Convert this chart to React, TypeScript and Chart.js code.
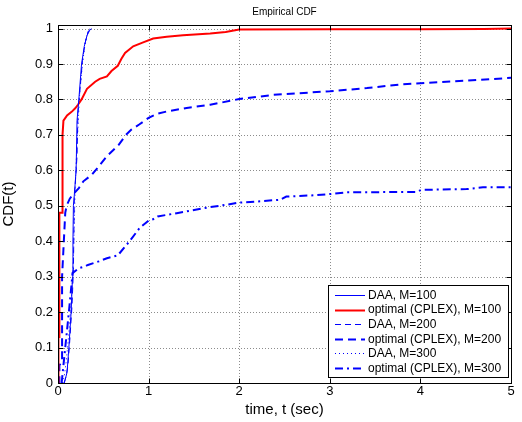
import React, { useEffect, useRef } from "react";
import { Chart, registerables } from "chart.js";
Chart.register(...registerables);

const chartTitle = "Empirical CDF";
const xTitle = "time, t (sec)";
const yTitle = "CDF(t)";
const xTicks = [0, 1, 2, 3, 4, 5];
const yTicks = [0, 0.1, 0.2, 0.3, 0.4, 0.5, 0.6, 0.7, 0.8, 0.9, 1];
const yTickLabels = ["0", "0.1", "0.2", "0.3", "0.4", "0.5", "0.6", "0.7", "0.8", "0.9", "1"];

const seriesNames = [
  "DAA, M=100",
  "optimal (CPLEX), M=100",
  "DAA, M=200",
  "optimal (CPLEX), M=200",
  "DAA, M=300",
  "optimal (CPLEX), M=300",
];

const daa100T = [0.065, 0.08, 0.1, 0.12, 0.145, 0.16, 0.165, 0.17, 0.18, 0.2, 0.21, 0.23, 0.26, 0.29, 0.32, 0.35, 0.37];
const daa100Y = [0, 0.01, 0.03, 0.1, 0.2, 0.3, 0.4, 0.5, 0.53, 0.6, 0.74, 0.8, 0.9, 0.95, 0.98, 0.995, 1.0];

const opt100T = [0, 0.005, 0.005, 0.015, 0.015, 0.045, 0.045, 0.055, 0.06, 0.1, 0.15, 0.19, 0.22, 0.26, 0.32, 0.41, 0.46, 0.54, 0.59, 0.66, 0.7, 0.74, 0.83, 0.94, 1.05, 1.2, 1.38, 1.68, 1.85, 2.0, 3.0, 4.0, 4.7, 5.0];
const opt100Y = [0, 0, 0.13, 0.13, 0.48, 0.48, 0.65, 0.7, 0.74, 0.755, 0.765, 0.775, 0.785, 0.8, 0.83, 0.85, 0.858, 0.865, 0.88, 0.895, 0.915, 0.931, 0.95, 0.961, 0.972, 0.977, 0.981, 0.986, 0.99, 0.997, 0.998, 0.998, 0.999, 1.0];

const daa200T = [0.07, 0.09, 0.11, 0.13, 0.155, 0.17, 0.175, 0.18, 0.19, 0.21, 0.22, 0.24, 0.27, 0.3, 0.33, 0.36];
const daa200Y = [0, 0.02, 0.05, 0.12, 0.22, 0.32, 0.42, 0.52, 0.56, 0.64, 0.76, 0.82, 0.91, 0.96, 0.99, 1.0];

const opt200T = [0, 0.015, 0.015, 0.045, 0.045, 0.08, 0.095, 0.13, 0.18, 0.23, 0.28, 0.375, 0.45, 0.54, 0.67, 0.75, 0.81, 0.9, 1.0, 1.1, 1.2, 1.42, 1.68, 2.0, 2.38, 3.0, 3.41, 3.77, 4.0, 4.51, 5.0];
const opt200Y = [0, 0, 0.05, 0.06, 0.3, 0.48, 0.5, 0.52, 0.536, 0.55, 0.569, 0.588, 0.611, 0.64, 0.672, 0.7, 0.715, 0.73, 0.748, 0.76, 0.766, 0.776, 0.785, 0.801, 0.813, 0.823, 0.832, 0.842, 0.846, 0.853, 0.861];

const daa300T = [0.05, 0.07, 0.09, 0.12, 0.15, 0.17, 0.18, 0.19, 0.2, 0.22, 0.24, 0.27, 0.3, 0.33, 0.35];
const daa300Y = [0, 0.02, 0.06, 0.14, 0.25, 0.35, 0.45, 0.55, 0.62, 0.72, 0.82, 0.9, 0.96, 0.99, 1.0];

const opt300T = [0.04, 0.08, 0.12, 0.15, 0.16, 0.23, 0.3, 0.33, 0.45, 0.54, 0.66, 0.74, 0.79, 0.9, 1.0, 1.05, 1.1, 1.31, 1.6, 1.86, 2.0, 2.19, 2.45, 2.52, 2.78, 3.0, 3.19, 3.96, 4.01, 4.51, 4.69, 5.0];
const opt300Y = [0, 0.1, 0.2, 0.28, 0.31, 0.324, 0.329, 0.333, 0.343, 0.352, 0.36, 0.385, 0.4, 0.437, 0.458, 0.462, 0.47, 0.479, 0.493, 0.503, 0.509, 0.512, 0.517, 0.526, 0.529, 0.533, 0.538, 0.539, 0.545, 0.547, 0.552, 0.552];

const BLUE = "#0000ff";
const RED = "#ff0000";
const FONT = "'Liberation Sans', Arial, Helvetica, sans-serif";

const styles = [
  { color: BLUE, width: 1, dash: [] as number[] },
  { color: RED, width: 2, dash: [] as number[] },
  { color: BLUE, width: 1, dash: [6, 4] },
  { color: BLUE, width: 2, dash: [8, 5] },
  { color: BLUE, width: 1, dash: [1, 3] },
  { color: BLUE, width: 2, dash: [8, 4, 2, 4] },
];

const pts = (t: number[], y: number[]) => t.map((v, i) => ({ x: v, y: y[i] }));

const matlabPlugin = {
  id: "matlabFrame",
  beforeDatasetsDraw(chart: any) {
    const { ctx, chartArea: a, scales } = chart;
    ctx.save();
    ctx.strokeStyle = "#8c8c8c";
    ctx.lineWidth = 1;
    ctx.setLineDash([1, 2]);
    xTicks.forEach((v) => {
      const px = Math.round(scales.x.getPixelForValue(v)) + 0.5;
      ctx.beginPath();
      ctx.moveTo(px, a.top);
      ctx.lineTo(px, a.bottom);
      ctx.stroke();
    });
    yTicks.forEach((v) => {
      const py = Math.round(scales.y.getPixelForValue(v)) + 0.5;
      ctx.beginPath();
      ctx.moveTo(a.left, py);
      ctx.lineTo(a.right, py);
      ctx.stroke();
    });
    ctx.restore();
  },
  afterDraw(chart: any) {
    const { ctx, chartArea: a, scales } = chart;
    ctx.save();
    // frame
    ctx.strokeStyle = "#000";
    ctx.lineWidth = 1;
    ctx.setLineDash([]);
    const L = Math.round(a.left) + 0.5, R = Math.round(a.right) + 0.5;
    const T = Math.round(a.top) + 0.5, B = Math.round(a.bottom) + 0.5;
    ctx.strokeRect(L, T, R - L, B - T);
    const tl = 5;
    ctx.beginPath();
    xTicks.forEach((v) => {
      const px = Math.round(scales.x.getPixelForValue(v)) + 0.5;
      ctx.moveTo(px, B); ctx.lineTo(px, B - tl);
      ctx.moveTo(px, T); ctx.lineTo(px, T + tl);
    });
    yTicks.forEach((v) => {
      const py = Math.round(scales.y.getPixelForValue(v)) + 0.5;
      ctx.moveTo(L, py); ctx.lineTo(L + tl, py);
      ctx.moveTo(R, py); ctx.lineTo(R - tl, py);
    });
    ctx.stroke();

    // title
    ctx.fillStyle = "#000";
    ctx.font = `10px ${FONT}`;
    ctx.textAlign = "center";
    ctx.textBaseline = "middle";
    ctx.fillText(chartTitle, (a.left + a.right) / 2, 12);

    // legend
    const lx = 328.5, ly = 285.5, lw = 180, lh = 92;
    ctx.fillStyle = "#fff";
    ctx.fillRect(lx, ly, lw, lh);
    ctx.strokeStyle = "#000";
    ctx.strokeRect(lx, ly, lw, lh);
    ctx.font = `12px ${FONT}`;
    ctx.textAlign = "left";
    seriesNames.forEach((name, i) => {
      const cy = 295 + i * 14.6;
      const s = styles[i];
      ctx.strokeStyle = s.color;
      ctx.lineWidth = s.width;
      ctx.setLineDash(s.dash);
      ctx.beginPath();
      ctx.moveTo(335, Math.round(cy) + 0.5);
      ctx.lineTo(365, Math.round(cy) + 0.5);
      ctx.stroke();
      ctx.fillStyle = "#000";
      ctx.fillText(name, 368, cy + 0.5);
    });
    ctx.restore();
  },
};

export default function App() {
  const ref = useRef<HTMLCanvasElement | null>(null);
  useEffect(() => {
    if (!ref.current) return;
    const series = [
      pts(daa100T, daa100Y),
      pts(opt100T, opt100Y),
      pts(daa200T, daa200Y),
      pts(opt200T, opt200Y),
      pts(daa300T, daa300Y),
      pts(opt300T, opt300Y),
    ];
    const chart = new Chart(ref.current, {
      type: "line",
      data: {
        datasets: series.map((d, i) => ({
          label: seriesNames[i],
          data: d,
          borderColor: styles[i].color,
          borderWidth: styles[i].width,
          borderDash: styles[i].dash,
          pointRadius: 0,
          fill: false,
          tension: 0,
        })),
      },
      options: {
        animation: false,
        responsive: false,
        devicePixelRatio: 1,
        layout: { padding: { top: 25, right: 11, left: 0, bottom: 0 } },
        plugins: { legend: { display: false }, title: { display: false }, tooltip: { enabled: false } },
        scales: {
          x: {
            type: "linear",
            min: 0,
            max: 5,
            grid: { display: false, drawTicks: false },
            border: { display: false },
            afterBuildTicks: (s: any) => { s.ticks = xTicks.map((v) => ({ value: v })); },
            afterFit: (s: any) => { s.height = 39; },
            ticks: {
              color: "#000",
              font: { family: FONT, size: 13 },
              padding: 1,
              maxRotation: 0,
              callback: (v: any) => String(v),
            },
            title: {
              display: true,
              text: xTitle,
              color: "#000",
              font: { family: FONT, size: 15 },
              padding: { top: 0, bottom: 3 },
            },
          },
          y: {
            type: "linear",
            min: 0,
            max: 1.01,
            grid: { display: false, drawTicks: false },
            border: { display: false },
            afterBuildTicks: (s: any) => { s.ticks = yTicks.map((v) => ({ value: v })); },
            afterFit: (s: any) => { s.width = 58; },
            ticks: {
              color: "#000",
              font: { family: FONT, size: 13 },
              padding: 5,
              callback: (_v: any, i: number) => yTickLabels[i],
            },
            title: {
              display: true,
              text: yTitle,
              color: "#000",
              font: { family: FONT, size: 15 },
              padding: { top: 0, bottom: 0 },
            },
          },
        },
      },
      plugins: [matlabPlugin],
    } as any);
    return () => chart.destroy();
  }, []);
  return (
    <div style={{ position: "fixed", left: 0, top: 0, width: 522, height: 422, background: "#fff" }}>
      <canvas ref={ref} width={522} height={422} />
    </div>
  );
}
